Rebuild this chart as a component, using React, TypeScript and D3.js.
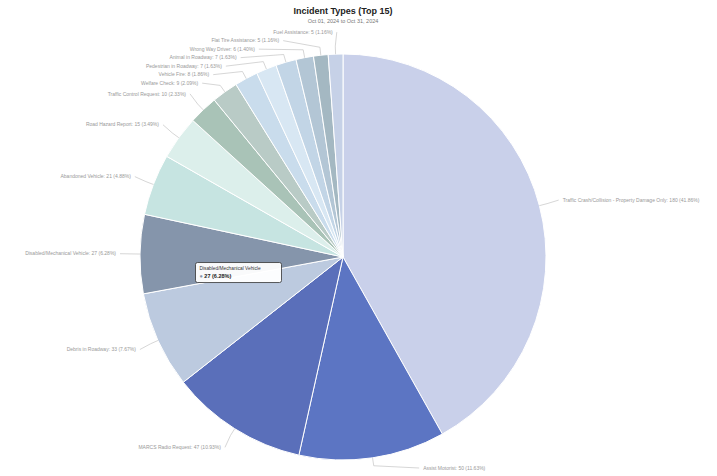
import React from 'react'
import * as d3 from 'd3'

const categories = [
  'Traffic Crash/Collision - Property Damage Only',
  'Assist Motorist',
  'MARCS Radio Request',
  'Debris in Roadway',
  'Disabled/Mechanical Vehicle',
  'Abandoned Vehicle',
  'Road Hazard Report',
  'Traffic Control Request',
  'Welfare Check',
  'Vehicle Fire',
  'Pedestrian in Roadway',
  'Animal in Roadway',
  'Wrong Way Driver',
  'Flat Tire Assistance',
  'Fuel Assistance'
]

const counts = [180, 50, 47, 33, 27, 21, 15, 10, 9, 8, 7, 7, 6, 5, 5]

const colors = [
  '#c9d0ea', '#5c75c3', '#5a6fba', '#bccadf', '#8595ab',
  '#c6e4e1', '#dcefeb', '#a9c3b7', '#b9cbc6', '#c9dcec',
  '#d8e7f3', '#c2d5e6', '#b3c6d5', '#a4b8c2', '#c6d1e7'
]

const title = 'Incident Types (Top 15)'
const subtitle = 'Oct 01, 2024 to Oct 31, 2024'

const width = 717
const height = 476
const cx = 343
const cy = 257
const r = 203
const total = d3.sum(counts)

const pie = d3.pie<number>().sort(null).value(d => d)
const arcs = pie(counts)
const arc = d3.arc<d3.PieArcDatum<number>>().innerRadius(0).outerRadius(r)

const pct = (v: number) => ((v / total) * 100).toFixed(2) + '%'

// label layout: place on a ring, then push apart per side
const ring = r + 22
const labels = arcs.map((a, i) => {
  const mid = (a.startAngle + a.endAngle) / 2
  return {
    i,
    mid,
    right: Math.sin(mid) >= 0,
    y: cy - ring * Math.cos(mid),
    x: 0
  }
})

const spread = (group: typeof labels) => {
  group.sort((a, b) => a.y - b.y)
  const gap = 8.5
  for (let k = 1; k < group.length; k++) {
    if (group[k].y < group[k - 1].y + gap) group[k].y = group[k - 1].y + gap
  }
  const maxY = 468
  if (group.length && group[group.length - 1].y > maxY) group[group.length - 1].y = maxY
  for (let k = group.length - 2; k >= 0; k--) {
    if (group[k].y > group[k + 1].y - gap) group[k].y = group[k + 1].y - gap
  }
  group.forEach(l => {
    const dy = l.y - cy
    const dx = Math.sqrt(Math.max(0, ring * ring - dy * dy))
    l.x = l.right ? cx + Math.max(dx, 8) : cx - Math.max(dx, 8)
  })
}
spread(labels.filter(l => l.right))
spread(labels.filter(l => !l.right))

const tipIndex = 4

export default function App() {
  const tipC = arc.centroid(arcs[tipIndex])
  const tx = cx + tipC[0] - 46
  const ty = cy + tipC[1] + 7
  return (
    <svg
      width={width}
      height={height}
      style={{ position: 'absolute', left: 0, top: 0, background: '#fff' }}
      fontFamily="Liberation Sans, Arial, sans-serif"
    >
      <text x={cx} y={14} textAnchor="middle" fontSize="9" fontWeight="bold" fill="#222">
        {title}
      </text>
      <text x={cx} y={23} textAnchor="middle" fontSize="5.5" fill="#777">
        {subtitle}
      </text>
      <g transform={`translate(${cx},${cy})`}>
        {arcs.map((a, i) => (
          <path key={i} d={arc(a) || ''} fill={colors[i]} stroke="#fff" strokeWidth={1} />
        ))}
      </g>
      {labels.map(l => {
        const ex = cx + r * Math.sin(l.mid)
        const ey = cy - r * Math.cos(l.mid)
        const mx = cx + (r + 8) * Math.sin(l.mid)
        const my = cy - (r + 8) * Math.cos(l.mid)
        const lx = l.right ? l.x - 2 : l.x + 2
        return (
          <g key={l.i}>
            <polyline
              points={`${ex},${ey} ${mx},${my} ${lx},${l.y}`}
              fill="none"
              stroke="#bbb"
              strokeWidth={0.6}
            />
            <text
              x={l.right ? l.x + 2 : l.x - 2}
              y={l.y}
              dy="0.35em"
              textAnchor={l.right ? 'start' : 'end'}
              fontSize="5"
              fill="#999"
            >
              {`${categories[l.i]}: ${counts[l.i]} (${pct(counts[l.i])})`}
            </text>
          </g>
        )
      })}
      <g transform={`translate(${tx},${ty})`}>
        <rect width={86} height={20} rx={2} fill="#fff" fillOpacity={0.95} stroke="#333" strokeWidth={0.8} />
        <text x={4} y={7.5} fontSize="4.8" fill="#333">
          {categories[tipIndex]}
        </text>
        <text x={4} y={15} fontSize="5.5" fill="#222">
          <tspan fill={colors[tipIndex]}>●</tspan>
          <tspan fontWeight="bold">{` ${counts[tipIndex]} (${pct(counts[tipIndex])})`}</tspan>
        </text>
      </g>
    </svg>
  )
}
